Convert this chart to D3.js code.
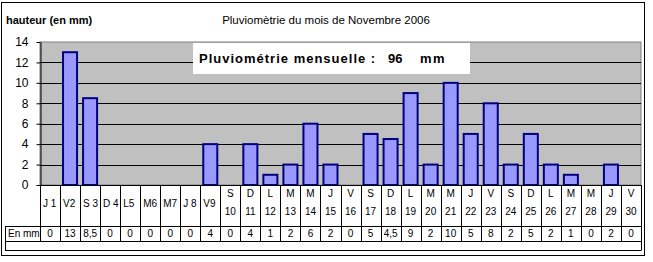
<!DOCTYPE html>
<html>
<head>
<meta charset="utf-8">
<script src="https://cdn.jsdelivr.net/npm/d3@7"></script>
<style>
  body { margin: 0; background: #fff; }
  svg { display: block; font-family: "Liberation Sans", Arial, sans-serif; }
</style>
</head>
<body>
<div class="chart"></div>
<script>
// jours du mois et relevés (mm)
var dayLetters = ["J","V","S","D","L","M","M","J","V","S","D","L","M","M","J","V","S","D","L","M","M","J","V","S","D","L","M","M","J","V"];
var dayNumbers = d3.range(1, 31);
var rainValues = [0, 13, 8.5, 0, 0, 0, 0, 0, 4, 0, 4, 1, 2, 6, 2, 0, 5, 4.5, 9, 2, 10, 5, 8, 2, 5, 2, 1, 0, 2, 0];
var yTicks = [0, 2, 4, 6, 8, 10, 12, 14];
var monthTotal = 96;

var width = 653, height = 262;
var plot = {left: 40, right: 641, top: 42, bottom: 185};

var svg = d3.select(".chart").append("svg")
  .attr("width", width)
  .attr("height", height);

// cadre extérieur
svg.append("rect")
  .attr("x", 1.5).attr("y", 2.5)
  .attr("width", 643).attr("height", 253)
  .attr("fill", "none").attr("stroke", "#000").attr("stroke-width", 1);

var x = d3.scaleBand()
  .domain(dayNumbers)
  .range([plot.left, plot.right])
  .paddingInner(0.3)
  .paddingOuter(0.15);

var y = d3.scaleLinear()
  .domain([0, 14])
  .range([plot.bottom, plot.top]);

// zone de tracé grise
svg.append("rect")
  .attr("x", plot.left).attr("y", plot.top)
  .attr("width", plot.right - plot.left).attr("height", plot.bottom - plot.top)
  .attr("fill", "#c0c0c0")
  .attr("stroke", "#808080");

// quadrillage
svg.append("g")
  .selectAll("line")
  .data(yTicks.filter(function(d){ return d > 0 && d < 14; }))
  .enter().append("line")
  .attr("x1", plot.left).attr("x2", plot.right)
  .attr("y1", function(d){ return Math.round(y(d)) + 0.5; })
  .attr("y2", function(d){ return Math.round(y(d)) + 0.5; })
  .attr("stroke", "#000");

// axe y
var yAxis = svg.append("g")
  .attr("transform", "translate(" + (plot.left + 0.5) + ",0)")
  .call(d3.axisLeft(y).tickValues(yTicks).tickSize(4).tickSizeOuter(0).tickPadding(8));
yAxis.selectAll("text").attr("font-size", 12).attr("font-family", "Liberation Sans, Arial").attr("fill", "#000");
yAxis.selectAll("line, path").attr("stroke", "#000");

// barres
svg.append("g")
  .selectAll("rect")
  .data(rainValues)
  .enter().append("rect")
  .attr("x", function(d, i){ return x(dayNumbers[i]); })
  .attr("y", function(d){ return y(d); })
  .attr("width", x.bandwidth())
  .attr("height", function(d){ return plot.bottom - y(d); })
  .attr("fill", "#9999ff")
  .attr("stroke", "#000080")
  .attr("stroke-width", 2)
  .style("display", function(d){ return d > 0 ? null : "none"; });

// ligne de base
svg.append("line")
  .attr("x1", plot.left).attr("x2", plot.right)
  .attr("y1", plot.bottom + 0.5).attr("y2", plot.bottom + 0.5)
  .attr("stroke", "#000");

// cartouche total mensuel
var box = svg.append("g");
box.append("rect")
  .attr("x", 193).attr("y", 43)
  .attr("width", 277).attr("height", 31)
  .attr("fill", "#fff");
box.append("text")
  .attr("x", 199).attr("y", 63)
  .attr("font-size", 13).attr("font-weight", "bold")
  .attr("letter-spacing", 1)
  .text("Pluviométrie mensuelle :");
box.append("text")
  .attr("x", 388).attr("y", 63)
  .attr("font-size", 13).attr("font-weight", "bold")
  .text(monthTotal);
box.append("text")
  .attr("x", 420).attr("y", 63)
  .attr("font-size", 13).attr("font-weight", "bold")
  .attr("letter-spacing", 1.5)
  .text("mm");

// titres
svg.append("text")
  .attr("x", 6).attr("y", 24)
  .attr("font-size", 11).attr("font-weight", "bold")
  .text("hauteur (en mm)");
svg.append("text")
  .attr("x", 326).attr("y", 24)
  .attr("text-anchor", "middle")
  .attr("font-size", 11.5)
  .text("Pluviomètrie du mois de Novembre 2006");

// tableau des données
var colX = function(i){ return plot.left + i * (plot.right - plot.left) / dayNumbers.length; };
var colW = (plot.right - plot.left) / dayNumbers.length;
var table = svg.append("g").attr("font-size", 10);
var rowTop = plot.bottom, rowMid = 226, rowBot = 241, boxBot = 250;

// traits horizontaux
table.append("line").attr("x1", 5).attr("x2", plot.right).attr("y1", rowMid + 0.5).attr("y2", rowMid + 0.5).attr("stroke", "#000");
table.append("line").attr("x1", 5).attr("x2", plot.right).attr("y1", rowBot + 0.5).attr("y2", rowBot + 0.5).attr("stroke", "#000");
table.append("line").attr("x1", 5).attr("x2", plot.right + 0.5).attr("y1", boxBot + 0.5).attr("y2", boxBot + 0.5).attr("stroke", "#000");
table.append("line").attr("x1", 5.5).attr("x2", 5.5).attr("y1", rowMid).attr("y2", boxBot).attr("stroke", "#000");
table.append("line").attr("x1", plot.right + 0.5).attr("x2", plot.right + 0.5).attr("y1", rowTop).attr("y2", boxBot).attr("stroke", "#000");

// traits verticaux
table.selectAll(".vline")
  .data(d3.range(0, dayNumbers.length))
  .enter().append("line")
  .attr("class", "vline")
  .attr("x1", function(i){ return Math.round(colX(i)) + 0.5; })
  .attr("x2", function(i){ return Math.round(colX(i)) + 0.5; })
  .attr("y1", rowTop)
  .attr("y2", rowBot)
  .attr("stroke", "#000");

// libellés des jours
dayNumbers.forEach(function(d, i){
  var cx = colX(i) + colW / 2;
  if (d < 10) {
    table.append("text")
      .attr("x", colX(i) + 3).attr("y", 207)
      .text(dayLetters[i] + (d === 1 || d === 3 || d === 4 || d === 8 ? " " : "") + d);
  } else {
    table.append("text")
      .attr("x", cx).attr("y", 197).attr("text-anchor", "middle")
      .text(dayLetters[i]);
    table.append("text")
      .attr("x", cx).attr("y", 215).attr("text-anchor", "middle")
      .text(d);
  }
});

// valeurs
table.append("text").attr("x", 8).attr("y", 237).text("En mm");
rainValues.forEach(function(v, i){
  table.append("text")
    .attr("x", colX(i) + colW / 2).attr("y", 237).attr("text-anchor", "middle")
    .text(String(v).replace(".", ","));
});
</script>
</body>
</html>
